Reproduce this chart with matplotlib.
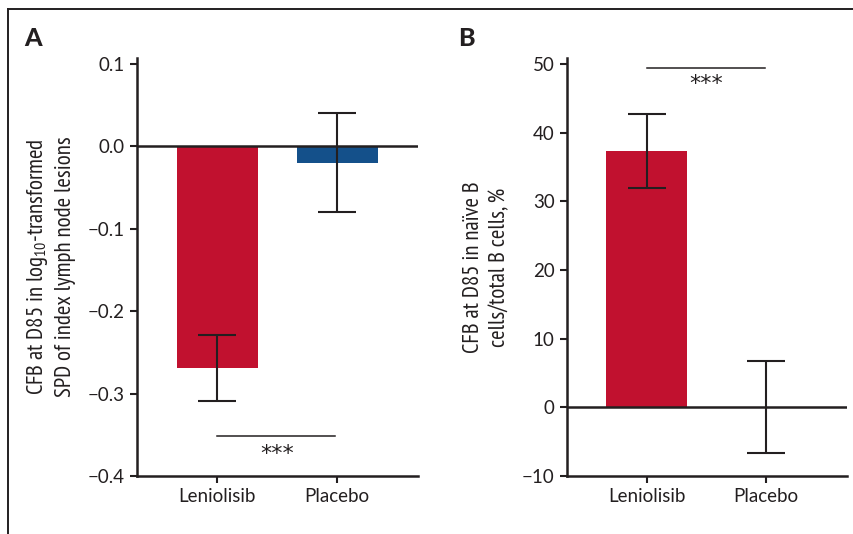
import matplotlib
matplotlib.use("Agg")
import matplotlib.pyplot as plt
from matplotlib.lines import Line2D

# ---- data ----
categories = ["Leniolisib", "Placebo"]
a_values = [-0.269, -0.02]
a_err_low = [-0.309, -0.079]
a_err_high = [-0.229, 0.040]
a_yticks = [0.1, 0.0, -0.1, -0.2, -0.3, -0.4]
a_ylabels = ["0.1", "0.0", "\u22120.1", "\u22120.2", "\u22120.3", "\u22120.4"]

b_values = [37.4, 0.0]
b_err_low = [32.0, -6.6]
b_err_high = [42.7, 6.75]
b_yticks = [50, 40, 30, 20, 10, 0, -10]
b_ylabels = ["50", "40", "30", "20", "10", "0", "\u221210"]

a_sig = -0.352
b_sig = 49.5

# ---- fonts ----
narrow = "PT Sans Narrow"
main_font = "Lato"
plt.rcParams["font.family"] = [main_font, "DejaVu Sans"]
plt.rcParams["mathtext.fontset"] = "custom"
plt.rcParams["mathtext.rm"] = narrow
plt.rcParams["mathtext.it"] = narrow

RED = "#C1112F"
BLUE = "#14508A"
DARK = "#231F20"
colors = [RED, BLUE]

fig = plt.figure(figsize=(8.54, 5.34), dpi=100)

def setup(ax, yticks, ylabels, ylim):
    ax.set_xlim(-0.667, 1.675)
    ax.set_ylim(*ylim)
    for s in ["top", "right"]:
        ax.spines[s].set_visible(False)
    for s in ["left", "bottom"]:
        ax.spines[s].set_linewidth(1.8)
        ax.spines[s].set_color(DARK)
    ax.set_yticks(yticks)
    ax.set_yticklabels(ylabels)
    ax.set_xticks(range(len(categories)))
    ax.set_xticklabels(categories)
    ax.tick_params(axis="both", direction="out", length=5, width=1.5,
                   colors=DARK, labelsize=13.5, pad=4)
    ax.axhline(0, color=DARK, lw=1.8, zorder=3)

def bars(ax, vals, lo, hi, cols):
    x = list(range(len(vals)))
    ax.bar(x, vals, width=0.675, color=cols, zorder=2)
    yerr = [[v - l for v, l in zip(vals, lo)], [h - v for v, h in zip(vals, hi)]]
    ax.errorbar(x, vals, yerr=yerr, fmt="none", ecolor=DARK, elinewidth=1.5,
                capsize=14, capthick=1.5, zorder=4)

# Panel A
axA = fig.add_axes([137/854, 1-476/534, 281/854, (476-58)/534])
setup(axA, a_yticks, a_ylabels, (-0.4, 0.1073))
bars(axA, a_values, a_err_low, a_err_high, colors)
axA.plot([0, 0.985], [a_sig, a_sig], color=DARK, lw=1.1)
axA.text(0.5, a_sig - 0.009, "***", ha="center", va="top", fontsize=16, color=DARK,
         family="DejaVu Sans")
axA.set_ylabel("CFB at D85 in log$_{10}$-transformed\nSPD of index lymph node lesions",
               family=[narrow, "DejaVu Sans"], fontsize=16.5, color=DARK,
               linespacing=1.3, labelpad=8)

# Panel B
axB = fig.add_axes([567/854, 1-476/534, 280/854, (476-58)/534])
setup(axB, b_yticks, b_ylabels, (-10, 50.9))
bars(axB, b_values, b_err_low, b_err_high, [RED, RED])
axB.plot([0, 0.985], [b_sig, b_sig], color=DARK, lw=1.1)
axB.text(0.5, b_sig - 0.9, "***", ha="center", va="top", fontsize=16, color=DARK,
         family="DejaVu Sans")
axB.set_ylabel("CFB at D85 in naïve B\ncells/total B cells, %",
               family=[narrow, "DejaVu Sans"], fontsize=16.5, color=DARK,
               linespacing=1.35, labelpad=8)

# Panel letters
fig.text(33/854, 1-39/534, "A", ha="center", va="center", fontsize=18,
         fontweight="black", color=DARK)
fig.text(466/854, 1-39/534, "B", ha="center", va="center", fontsize=18,
         fontweight="black", color=DARK)

# Frame lines
fig.add_artist(Line2D([8/854, 1], [1-9/534, 1-9/534], transform=fig.transFigure,
                      color=DARK, lw=1.4))
fig.add_artist(Line2D([8/854, 8/854], [0, 1-9/534], transform=fig.transFigure,
                      color=DARK, lw=1.4))

fig.savefig("out.png", dpi=100)
